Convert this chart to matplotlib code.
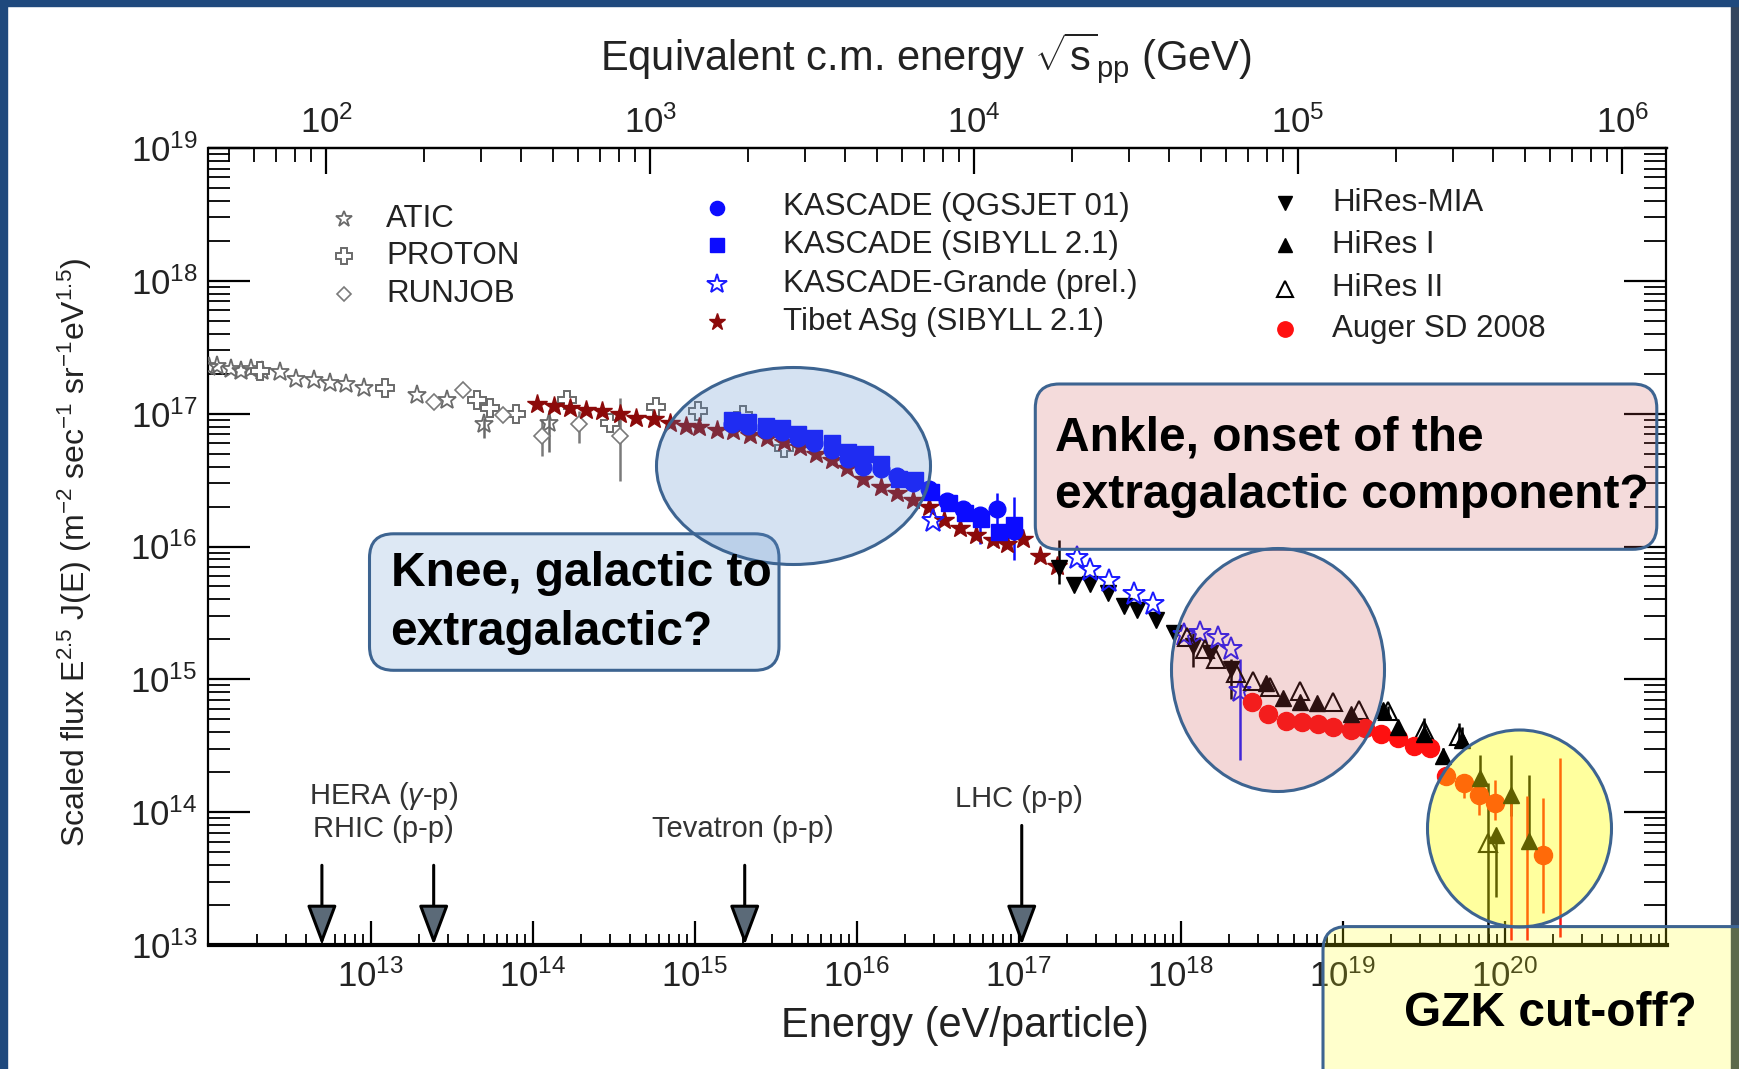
import numpy as np
import matplotlib
matplotlib.use("Agg")
import matplotlib.pyplot as plt
from matplotlib.patches import Ellipse, FancyBboxPatch, Rectangle
from matplotlib.ticker import LogLocator, FixedLocator, LogFormatterMathtext, NullFormatter

plt.rcParams['font.family'] = ['Liberation Sans', 'DejaVu Sans']
plt.rcParams['mathtext.fontset'] = 'custom'
plt.rcParams['mathtext.rm'] = 'Liberation Sans'
plt.rcParams['mathtext.it'] = 'Liberation Sans:italic'
plt.rcParams['mathtext.bf'] = 'Liberation Sans:bold'

# ---- data (log10 E [eV], log10 E^2.5 J(E)) ----
atic_lgE = [12.00, 12.05, 12.14, 12.20, 12.26, 12.33, 12.44, 12.54, 12.65, 12.75, 12.85, 12.96, 13.29, 13.47, 13.70, 14.10]
atic_lgF = [17.35, 17.36, 17.335, 17.32, 17.34, 17.32, 17.31, 17.26, 17.25, 17.23, 17.22, 17.19, 17.14, 17.10, 16.92, 16.93]
atic_dlo = [0]*14 + [0.10, 0.22]
atic_dhi = [0]*14 + [0.05, 0.10]

proton_lgE = [12.32, 13.09, 13.66, 13.74, 13.90, 14.21, 14.48, 14.76, 15.02, 15.30, 15.55]
proton_lgF = [17.32, 17.19, 17.10, 17.04, 17.00, 17.10, 16.93, 17.05, 17.02, 16.99, 16.74]

runjob_lgE = [13.39, 13.57, 13.82, 14.06, 14.29, 14.54]
runjob_lgF = [17.09, 17.18, 16.99, 16.83, 16.92, 16.83]
runjob_dlo = [0, 0, 0, 0.15, 0.14, 0.34]
runjob_dhi = [0, 0, 0, 0.12, 0.10, 0.29]

tibet_lgE = [14.03, 14.13, 14.23, 14.33, 14.43, 14.54, 14.64, 14.75, 14.85, 14.95, 15.03, 15.14, 15.24,
             15.34, 15.45, 15.55, 15.65, 15.75, 15.85, 15.94, 16.04, 16.15, 16.25, 16.35, 16.45, 16.54,
             16.64, 16.74, 16.84, 16.93, 17.03, 17.13, 17.24]
tibet_lgF = [17.07, 17.06, 17.04, 17.03, 17.02, 17.00, 16.97, 16.96, 16.93, 16.91, 16.90, 16.88, 16.87,
             16.84, 16.82, 16.79, 16.75, 16.70, 16.65, 16.59, 16.51, 16.45, 16.40, 16.35, 16.30, 16.20,
             16.14, 16.09, 16.05, 16.02, 16.06, 15.93, 15.85]

kasq_lgE = [15.23, 15.33, 15.44, 15.54, 15.64, 15.74, 15.85, 15.95, 16.04, 16.15, 16.25, 16.35, 16.45,
            16.56, 16.66, 16.76, 16.87, 16.97]
kasq_lgF = [16.92, 16.91, 16.88, 16.86, 16.82, 16.78, 16.73, 16.66, 16.60, 16.58, 16.53, 16.48, 16.43,
            16.34, 16.28, 16.24, 16.28, 16.12]
kasq_dlo = [0]*15 + [0.22, 0.28, 0.22]
kasq_dhi = [0]*15 + [0.05, 0.12, 0.25]

kass_lgE = [15.23, 15.33, 15.44, 15.54, 15.64, 15.74, 15.85, 15.95, 16.05, 16.15, 16.26, 16.36, 16.46,
            16.57, 16.67, 16.77, 16.88, 16.97]
kass_lgF = [16.95, 16.94, 16.91, 16.89, 16.85, 16.82, 16.78, 16.71, 16.70, 16.62, 16.51, 16.50, 16.41,
            16.33, 16.25, 16.21, 16.11, 16.16]

kg_lgE = [16.47, 17.36, 17.44, 17.56, 17.71, 17.83, 18.02, 18.12, 18.23, 18.31, 18.37]
kg_lgF = [16.19, 15.91, 15.82, 15.74, 15.64, 15.57, 15.33, 15.35, 15.31, 15.23, 14.91]
kg_dlo = [0]*10 + [0.52]
kg_dhi = [0]*10 + [0.24]

mia_lgE = [17.25, 17.34, 17.44, 17.55, 17.65, 17.73, 17.85, 17.96, 18.08, 18.18, 18.31]
mia_lgF = [15.84, 15.71, 15.72, 15.65, 15.55, 15.52, 15.45, 15.35, 15.25, 15.20, 15.08]
mia_dlo = [0.12, 0, 0, 0, 0, 0, 0, 0, 0.16, 0, 0.23]
mia_dhi = [0.21, 0, 0, 0, 0, 0, 0, 0, 0.10, 0, 0.07]

hr1_lgE = [18.53, 18.63, 18.74, 18.84, 19.05, 19.25, 19.34, 19.50, 19.62, 19.74, 19.85, 19.95, 20.04, 20.15]
hr1_lgF = [14.97, 14.86, 14.83, 14.82, 14.74, 14.77, 14.64, 14.59, 14.42, 14.54, 14.26, 13.83, 14.13, 13.78]
hr1_dlo = [0]*7 + [0.04, 0.06, 0.05, 0.16, 0.47, 0.16, 0.02]
hr1_dhi = [0]*7 + [0.06, 0.06, 0.10, 0.17, 0.02, 0.30, 0.50]

hr2_lgE = [18.04, 18.15, 18.22, 18.34, 18.45, 18.55, 18.74, 18.94, 19.10, 19.28, 19.50, 19.72, 19.90]
hr2_lgF = [15.32, 15.23, 15.15, 15.05, 14.99, 14.94, 14.91, 14.83, 14.77, 14.76, 14.62, 14.57, 13.77]
hr2_dlo = [0]*9 + [0.04, 0.06, 0.06, 0.77]
hr2_dhi = [0]*9 + [0.04, 0.09, 0.10, 0.45]

auger_lgE = [18.44, 18.54, 18.65, 18.75, 18.85, 18.94, 19.05, 19.14, 19.24, 19.34, 19.44, 19.54,
             19.64, 19.75, 19.84, 19.94, 20.24]
auger_lgF = [14.83, 14.74, 14.69, 14.68, 14.66, 14.64, 14.62, 14.63, 14.59, 14.56, 14.50, 14.48,
             14.27, 14.22, 14.13, 14.07, 13.68]
auger_dlo = [0]*12 + [0.05, 0.11, 0.15, 0.13, 0.44]
auger_dhi = [0]*12 + [0.05, 0.05, 0.04, 0.17, 0.43]
# Auger bins with only an error range visible
augerbar_lgE = [20.04, 20.14, 20.34]
augerbar_lo = [13.04, 13.04, 13.06]
augerbar_hi = [14.12, 14.12, 14.41]

# accelerators: equivalent lab energy, arrow top
acc_names = ['HERA', 'RHIC', 'Tevatron', 'LHC']
acc_lgE = [12.70, 13.39, 15.31, 17.02]
acc_top = [13.60, 13.60, 13.60, 13.90]

M_P = 0.938e9  # proton mass, eV


def to_sqrts(E):
    return np.sqrt(2.0 * M_P * np.abs(E)) / 1e9


def to_energy(s):
    return (np.asarray(s) * 1e9) ** 2 / (2.0 * M_P)


W, H = 1740, 1069
fig = plt.figure(figsize=(W / 100, H / 100), dpi=100)
fig.patch.set_facecolor('white')
ax = fig.add_axes([208.5 / W, 1 - 945 / H, 1458 / W, 797 / H])
ax.set_xscale('log')
ax.set_yscale('log')
ax.set_xlim(1e12, 1e21)
ax.set_ylim(1e13, 1e19)

styles = {
    'ATIC': dict(marker='*', ms=14, mfc='none', mec='#6a6a6a', mew=1.3, color='#6a6a6a'),
    'PROTON': dict(marker='P', ms=13, mfc='white', mec='#6a6a6a', mew=1.4, color='#6a6a6a'),
    'RUNJOB': dict(marker='D', ms=8, mfc='white', mec='#7a7a7a', mew=1.2, color='#7a7a7a'),
    'KASCADE (QGSJET 01)': dict(marker='o', ms=12, color='#0c0cff', mec='#0c0cff'),
    'KASCADE (SIBYLL 2.1)': dict(marker='s', ms=11.5, color='#0c0cff', mec='#0c0cff'),
    'KASCADE-Grande (prel.)': dict(marker='*', ms=17, mfc='none', mec='#1a1aff', mew=1.4, color='#1a1aff'),
    'Tibet ASg (SIBYLL 2.1)': dict(marker='*', ms=15, color='#8c0a0a', mec='#8c0a0a'),
    'HiRes-MIA': dict(marker='v', ms=11.5, color='black', mec='black'),
    'HiRes I': dict(marker='^', ms=11.5, color='black', mec='black'),
    'HiRes II': dict(marker='^', ms=13, mfc='none', mec='black', mew=1.5, color='black'),
    'Auger SD 2008': dict(marker='o', ms=13, color='#ff1010', mec='#ff1010'),
}


def draw(name, lgE, lgF, dlo=None, dhi=None):
    lgE = np.asarray(lgE, float)
    lgF = np.asarray(lgF, float)
    E, F = 10 ** lgE, 10 ** lgF
    yerr = None
    if dlo is not None:
        yerr = [F - 10 ** (lgF - np.asarray(dlo)), 10 ** (lgF + np.asarray(dhi)) - F]
    ax.errorbar(E, F, yerr=yerr, ls='none', capsize=0, elinewidth=1.8, zorder=3, **styles[name])


draw('ATIC', atic_lgE, atic_lgF, atic_dlo, atic_dhi)
draw('PROTON', proton_lgE, proton_lgF)
draw('RUNJOB', runjob_lgE, runjob_lgF, runjob_dlo, runjob_dhi)
draw('Tibet ASg (SIBYLL 2.1)', tibet_lgE, tibet_lgF)
draw('KASCADE (SIBYLL 2.1)', kass_lgE, kass_lgF)
draw('KASCADE (QGSJET 01)', kasq_lgE, kasq_lgF, kasq_dlo, kasq_dhi)
draw('HiRes-MIA', mia_lgE, mia_lgF, mia_dlo, mia_dhi)
draw('KASCADE-Grande (prel.)', kg_lgE, kg_lgF, kg_dlo, kg_dhi)
draw('HiRes II', hr2_lgE, hr2_lgF, hr2_dlo, hr2_dhi)
draw('Auger SD 2008', auger_lgE, auger_lgF, auger_dlo, auger_dhi)
draw('HiRes I', hr1_lgE, hr1_lgF, hr1_dlo, hr1_dhi)
ax.vlines(10 ** np.array(augerbar_lgE), 10 ** np.array(augerbar_lo), 10 ** np.array(augerbar_hi),
          color='#ff1010', lw=1.8, zorder=3)

# accelerator arrows
acc_labels = {'HERA': ('HERA ($\\gamma$-p)', 13.08, 14.12), 'RHIC': ('RHIC (p-p)', 13.08, 13.87),
              'Tevatron': ('Tevatron (p-p)', 15.30, 13.87), 'LHC': ('LHC (p-p)', 17.00, 14.10)}
for name, lx, top in zip(acc_names, acc_lgE, acc_top):
    ax.annotate('', xy=(10 ** lx, 1e13), xytext=(10 ** lx, 10 ** top),
                arrowprops=dict(arrowstyle='-|>,head_length=0.8,head_width=0.3', mutation_scale=31,
                                fc='#5b6a78', ec='black', lw=2.2, shrinkA=0, shrinkB=0),
                annotation_clip=False, zorder=4)
    txt, tx, ty = acc_labels[name]
    ax.text(10 ** tx, 10 ** ty, txt, ha='center', va='center', fontsize=21, color='#333333')

# axes styling
for s in ['left', 'right', 'top']:
    ax.spines[s].set_linewidth(1.6)
ax.spines['bottom'].set_linewidth(3.0)
ax.xaxis.set_major_locator(FixedLocator(10.0 ** np.arange(13, 21)))
ax.xaxis.set_major_formatter(LogFormatterMathtext())
ax.xaxis.set_minor_locator(LogLocator(base=10, subs=np.arange(2, 10), numticks=100))
ax.xaxis.set_minor_formatter(NullFormatter())
ax.yaxis.set_major_locator(FixedLocator(10.0 ** np.arange(13, 20)))
ax.yaxis.set_major_formatter(LogFormatterMathtext())
ax.yaxis.set_minor_locator(LogLocator(base=10, subs=np.arange(2, 10), numticks=100))
ax.yaxis.set_minor_formatter(NullFormatter())
ax.tick_params(axis='both', which='both', direction='in', colors='black', labelcolor='#222222')
ax.tick_params(axis='x', which='major', length=17, width=1.6, top=False, labelsize=25, pad=10)
ax.tick_params(axis='x', which='minor', length=8, width=1.3, top=False)
ax.tick_params(axis='y', which='major', length=30, width=1.6, right=True, labelsize=25, pad=8)
ax.tick_params(axis='y', which='minor', length=16, width=1.3, right=True)

secax = ax.secondary_xaxis('top', functions=(to_sqrts, to_energy))
secax.xaxis.set_major_locator(FixedLocator(10.0 ** np.arange(2, 7)))
secax.xaxis.set_major_formatter(LogFormatterMathtext())
secax.xaxis.set_minor_locator(LogLocator(base=10, subs=np.arange(2, 10), numticks=100))
secax.xaxis.set_minor_formatter(NullFormatter())
secax.tick_params(which='both', direction='in', labelcolor='#222222')
secax.tick_params(which='major', length=19, width=1.6, labelsize=25, pad=6)
secax.tick_params(which='minor', length=10, width=1.3)
secax.spines['top'].set_linewidth(1.6)

# axis titles
fig.text(926 / W, 1 - 58 / H, 'Equivalent c.m. energy $\\sqrt{\\mathrm{s}}_{\\mathrm{pp}}$ (GeV)',
         ha='center', va='center', fontsize=30, color='#222222')
fig.text(965 / W, 1 - 1026 / H, 'Energy (eV/particle)', ha='center', va='center', fontsize=30,
         color='#222222')
fig.text(75 / W, 1 - 552 / H,
         'Scaled flux E$^{2.5}$ J(E) (m$^{-2}$ sec$^{-1}$ sr$^{-1}$eV$^{1.5}$)',
         rotation=90, ha='center', va='center', fontsize=23, color='#222222')

# legend (three unframed columns)
legend_cols = [
    (344, 386, [218.6, 256.3, 294], ['ATIC', 'PROTON', 'RUNJOB']),
    (717, 783, [207.5, 245, 284, 322], ['KASCADE (QGSJET 01)', 'KASCADE (SIBYLL 2.1)',
                                       'KASCADE-Grande (prel.)', 'Tibet ASg (SIBYLL 2.1)']),
    (1285, 1332, [203, 245, 288.5, 328.5], ['HiRes-MIA', 'HiRes I', 'HiRes II', 'Auger SD 2008']),
]
for mx, tx, rows, names in legend_cols:
    for ry, nm in zip(rows, names):
        st = dict(styles[nm])
        st['ms'] = st['ms'] * 0.85
        fig.add_artist(plt.Line2D([mx / W], [1 - ry / H], ls='none', transform=fig.transFigure, **st))
        fig.text(tx / W, 1 - ry / H, nm, ha='left', va='center', fontsize=22.5, color='#222222')

# slide annotations (pixel -> inch helpers)
tr = fig.dpi_scale_trans


def px(x, y):
    return x / 100, (H - y) / 100


edge = '#3d6491'
boxes = [((369.5, 670.3), 409.5, 136.5, (0.35, 0.55, 0.80, 0.20)),
         ((1035.3, 549.3), 621.5, 165.3, (0.80, 0.30, 0.30, 0.20)),
         ((1323, 1100), 460, 173.4, (1.0, 1.0, 0.0, 0.20))]
for (bx, by), bw, bh, fc in boxes:
    x0, y0 = px(bx, by)
    fig.add_artist(FancyBboxPatch((x0, y0), bw / 100, bh / 100,
                                  boxstyle='round,pad=0,rounding_size=0.24', transform=tr,
                                  fc=fc, ec=edge, lw=2.2, zorder=5))

ellipses = [((793.5, 466), 274, 197, (0.35, 0.55, 0.80, 0.25)),
            ((1278, 670), 213, 243, (0.80, 0.30, 0.30, 0.22)),
            ((1519.5, 828.5), 184, 197, (1.0, 1.0, 0.0, 0.38))]
for (cx, cy), ew, eh, fc in ellipses:
    fig.add_artist(Ellipse(px(cx, cy), ew / 100, eh / 100, transform=tr, fc=fc, ec=edge, lw=2.2, zorder=6))

notes = [(390.6, 573.7, 'Knee, galactic to'), (390.6, 632.5, 'extragalactic?'),
         (1055.3, 438.3, 'Ankle, onset of the'), (1055.3, 496, 'extragalactic component?'),
         (1403.8, 1013, 'GZK cut-off?')]
for nx, ny, t in notes:
    fig.text(*px(nx, ny), t, transform=tr, ha='left', va='center', fontsize=34.5,
             fontweight='bold', color='black', zorder=7)

# slide frame
fig.add_artist(Rectangle((0, 0), 7 / W, 1, transform=fig.transFigure, color='#1f497d', zorder=8))
fig.add_artist(Rectangle((0, 1 - 6 / H), 1, 6 / H, transform=fig.transFigure, color='#1f497d', zorder=8))
fig.add_artist(Rectangle((1 - 9 / W, 0), 9 / W, 1, transform=fig.transFigure, color='#34465e', zorder=4))

fig.savefig('out.png', dpi=100)
